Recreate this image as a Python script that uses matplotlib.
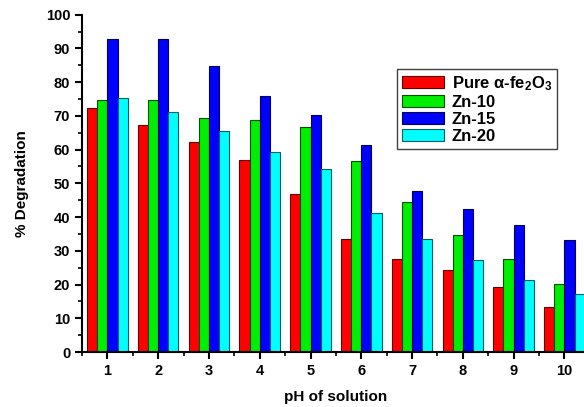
import matplotlib
matplotlib.use("Agg")
import matplotlib.pyplot as plt
import numpy as np
from matplotlib.ticker import MultipleLocator

plt.rcParams['font.family'] = ['Liberation Sans', 'DejaVu Sans']
plt.rcParams['font.weight'] = 'bold'
plt.rcParams['mathtext.fontset'] = 'custom'
plt.rcParams['mathtext.rm'] = 'Liberation Sans:bold'
plt.rcParams['mathtext.bf'] = 'Liberation Sans:bold'
plt.rcParams['mathtext.it'] = 'Liberation Sans:bold'

ph = [1, 2, 3, 4, 5, 6, 7, 8, 9, 10]
series_names = ['Pure α-fe$_2$O$_3$', 'Zn-10', 'Zn-15', 'Zn-20']
pure = [72.2, 67.4, 62.4, 56.8, 46.7, 33.4, 27.5, 24.4, 19.2, 13.3]
zn10 = [74.8, 74.8, 69.5, 68.7, 66.7, 56.7, 44.6, 34.6, 27.5, 20.2]
zn15 = [92.9, 92.9, 84.7, 75.8, 70.3, 61.4, 47.6, 42.4, 37.6, 33.2]
zn20 = [75.3, 71.2, 65.4, 59.3, 54.4, 41.2, 33.4, 27.3, 21.3, 17.2]
values = [pure, zn10, zn15, zn20]
colors = ['#ff0000', '#00ee00', '#0000ff', '#00ffff']
edges = ['#600000', '#005000', '#000050', '#006060']

fig = plt.figure(figsize=(5.84, 4.07), dpi=100)
ax = fig.add_axes([82/584, 55/407, 507.8/584, 337.3/407])

x = np.array(ph, dtype=float)
w = 0.2
offsets = [-1.5, -0.5, 0.5, 1.5]
for vals, name, c, e, off in zip(values, series_names, colors, edges, offsets):
    ax.bar(x + off * w, vals, width=w, color=c, edgecolor=e, linewidth=0.8, label=name)

ax.set_xlim(0.5, 10.5)
ax.set_ylim(0, 100)
ax.set_xticks(ph)
ax.xaxis.set_minor_locator(MultipleLocator(0.5))
ax.yaxis.set_major_locator(MultipleLocator(10))
ax.yaxis.set_minor_locator(MultipleLocator(5))
for s in ['top', 'right']:
    ax.spines[s].set_visible(False)
for s in ['left', 'bottom']:
    ax.spines[s].set_linewidth(1.5)
ax.tick_params(which='major', direction='out', length=5, width=1.5, labelsize=10.5)
ax.tick_params(which='minor', direction='out', length=3, width=1.2)
for lab in ax.get_xticklabels() + ax.get_yticklabels():
    lab.set_fontweight('bold')

ax.set_xlabel('pH of solution', fontsize=11, fontweight='bold', labelpad=9)
ax.set_ylabel('% Degradation', fontsize=11, fontweight='bold', labelpad=12)

leg = ax.legend(loc='upper left', bbox_to_anchor=(397/584, 1 - 69/407),
                bbox_transform=fig.transFigure, borderaxespad=0,
                prop={'weight': 'bold', 'size': 12}, fancybox=False,
                edgecolor='#404040', framealpha=1, handlelength=2.5,
                handleheight=0.75, labelspacing=0.12, handletextpad=0.5,
                borderpad=0.3)
leg.get_frame().set_linewidth(1.0)

fig.savefig('out.png', dpi=100)
